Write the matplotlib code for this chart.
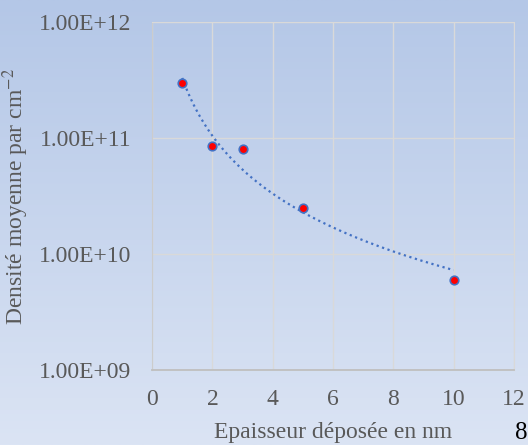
import numpy as np
import matplotlib
matplotlib.use("Agg")
import matplotlib.pyplot as plt
from matplotlib.colors import LinearSegmentedColormap
from matplotlib.ticker import FixedLocator, FuncFormatter

# data
epaisseur = [1, 2, 3, 5, 10]
densite = [3.0e11, 8.5e10, 8.0e10, 2.5e10, 6.0e9]
y_ticks = [1e9, 1e10, 1e11, 1e12]
x_ticks = [0, 2, 4, 6, 8, 10, 12]

plt.rcParams['font.family'] = ['Liberation Serif', 'DejaVu Serif']
plt.rcParams['mathtext.fontset'] = 'stix'

grey = '#595959'
blue = '#4472c4'
fs = 17

fig = plt.figure(figsize=(5.28, 4.45), dpi=100)

# gradient background over the whole figure
bg = fig.add_axes([0, 0, 1, 1], zorder=-1)
grad = LinearSegmentedColormap.from_list('bg', ['#b4c7e7', '#dbe4f4'])
bg.imshow(np.linspace(0, 1, 256).reshape(-1, 1), aspect='auto', cmap=grad,
          extent=[0, 1, 0, 1], origin='upper')
bg.axis('off')

ax = fig.add_axes([0.288, 0.1685, 0.6855, 0.782])
ax.patch.set_alpha(0)

# power trendline (least squares in log-log space)
b, a = np.polyfit(np.log(epaisseur), np.log(densite), 1)
xs = np.linspace(min(epaisseur), max(epaisseur), 200)
ax.plot(xs, np.exp(a) * xs ** b, linestyle=(0, (1, 1.6)), color=blue,
        linewidth=1.6, zorder=2)

ax.scatter(epaisseur, densite, s=38, color='#ff0000', edgecolors=blue,
           linewidths=1.2, zorder=3)

ax.set_yscale('log')
ax.set_ylim(1e9, 1e12)
ax.set_xlim(0, 12)
ax.yaxis.set_major_locator(FixedLocator(y_ticks))
ax.yaxis.set_minor_locator(FixedLocator([]))
ax.yaxis.set_major_formatter(FuncFormatter(
    lambda v, p: '1.00E+%02d' % int(round(np.log10(v)))))
ax.xaxis.set_major_locator(FixedLocator(x_ticks))

ax.grid(True, color='#d9d9d9', linewidth=1)
ax.set_axisbelow(True)
for side in ['top', 'right', 'left']:
    ax.spines[side].set_color('#d9d9d9')
ax.spines['bottom'].set_color('#bfbfbf')
ax.spines['bottom'].set_linewidth(1.3)
ax.spines['left'].set_color('#cccccc')

ax.tick_params(length=0, labelsize=fs, colors=grey)
ax.tick_params(axis='x', pad=14)
ax.tick_params(axis='y', pad=15)

ax.set_xlabel('Epaisseur déposée en nm', fontsize=fs, color=grey, labelpad=8)
ax.set_ylabel('Densité moyenne par cm$^{-2}$', fontsize=fs, color=grey,
              labelpad=6)

fig.text(0.976, 0.003, '8', fontsize=18, color='black', ha='left', va='bottom')

fig.savefig('out.png', dpi=100)
